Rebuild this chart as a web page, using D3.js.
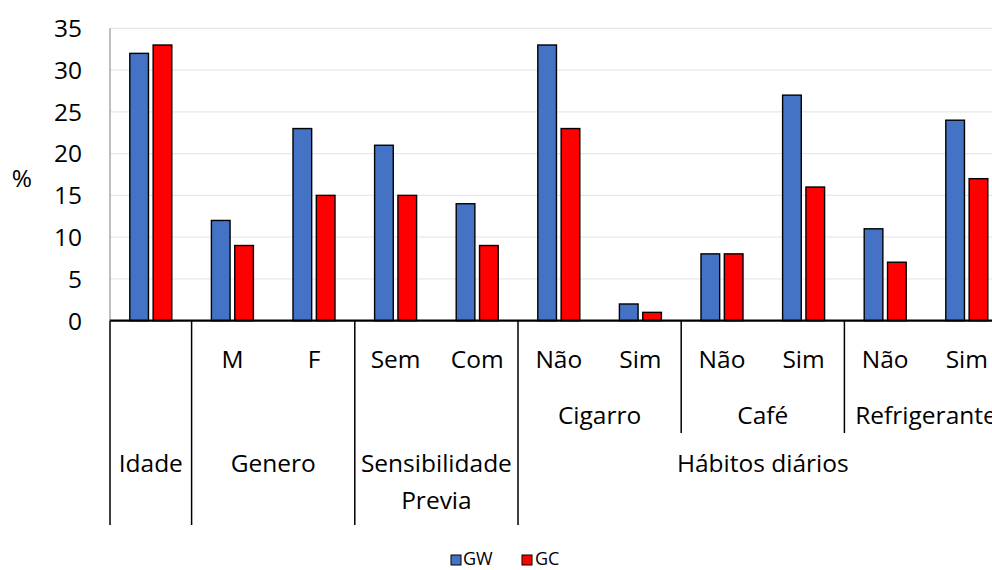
<!DOCTYPE html>
<html>
<head>
<meta charset="utf-8">
<script src="https://cdn.jsdelivr.net/npm/d3@7"></script>
<style>
  html, body { margin: 0; padding: 0; background: #fff; }
  svg text { font-family: "Open Sans", Lato, sans-serif; fill: #000; }
</style>
</head>
<body>
<svg id="chart" width="992" height="570"></svg>
<script>
// Categories: subcategory / group / top-level grouping
const categories = ["Idade", "M", "F", "Sem", "Com", "Não", "Sim", "Não", "Sim", "Não", "Sim"];
const seriesNames = ["GW", "GC"];
const gwValues = [32, 12, 23, 21, 14, 33, 2, 8, 27, 11, 24];
const gcValues = [33, 9, 15, 15, 9, 23, 1, 8, 16, 7, 17];
const yTicks = [0, 5, 10, 15, 20, 25, 30, 35];
const seriesColors = ["#4472C4", "#FF0000"];

// Level labels: [label, first index, last index]
const level2 = [["Cigarro", 5, 6], ["Café", 7, 8], ["Refrigerante", 9, 10]];
const level3 = [["Idade", 0, 0], ["Genero", 1, 2], ["Sensibilidade|Previa", 3, 4], ["Hábitos diários", 5, 10]];

const svg = d3.select("#chart");
const fs = 24.5;

const plotLeft = 110, plotRight = 1007.6, plotTop = 28.3, plotBottom = 320.7;
const idx = d3.range(categories.length);

const x = d3.scaleBand().domain(idx).range([plotLeft, plotRight]).padding(0);
const xi = d3.scaleBand().domain(seriesNames).range([-21, 21]).paddingInner(0.2);
const y = d3.scaleLinear().domain([0, 35]).range([plotBottom, plotTop]);

// Gridlines
svg.append("g").selectAll("line").data(yTicks.filter(d => d > 0)).join("line")
  .attr("x1", plotLeft).attr("x2", 992)
  .attr("y1", d => y(d)).attr("y2", d => y(d))
  .attr("stroke", "#e8e8e8").attr("stroke-width", 1.3);

// Y axis tick labels
svg.append("g").selectAll("text").data(yTicks).join("text")
  .attr("x", 82).attr("y", d => y(d))
  .attr("dy", "0.36em").attr("text-anchor", "end")
  .attr("font-size", fs).text(d => d);

svg.append("text").attr("x", 22).attr("y", 178).attr("dy", "0.36em")
  .attr("text-anchor", "middle").attr("font-size", fs).text("%");

// Bars
const data = [];
idx.forEach(i => {
  data.push({ i, s: "GW", v: gwValues[i], c: seriesColors[0] });
  data.push({ i, s: "GC", v: gcValues[i], c: seriesColors[1] });
});
svg.append("g").selectAll("rect").data(data).join("rect")
  .attr("x", d => x(d.i) + x.bandwidth() / 2 + xi(d.s))
  .attr("width", xi.bandwidth())
  .attr("y", d => y(d.v))
  .attr("height", d => y(0) - y(d.v))
  .attr("fill", d => d.c)
  .attr("stroke", "#000").attr("stroke-width", 1.4);

// Value axis line
svg.append("line").attr("x1", plotLeft).attr("x2", plotLeft).attr("y1", plotTop).attr("y2", plotBottom)
  .attr("stroke", "#7f7f7f").attr("stroke-width", 1);

// Category axis
svg.append("line").attr("x1", plotLeft).attr("x2", 992).attr("y1", y(0)).attr("y2", y(0))
  .attr("stroke", "#000").attr("stroke-width", 2.2);

const rowY1 = 359, rowY2 = 415, rowY3 = 472, lvl2Bottom = 433, lvl3Bottom = 525;

// Divider lines
const bounds = [0, 1, 3, 5].map(i => x(i));
svg.append("g").selectAll("line").data(bounds).join("line")
  .attr("x1", d => d).attr("x2", d => d).attr("y1", y(0)).attr("y2", lvl3Bottom)
  .attr("stroke", "#000").attr("stroke-width", 1.5);
svg.append("g").selectAll("line").data([7, 9].map(i => x(i))).join("line")
  .attr("x1", d => d).attr("x2", d => d).attr("y1", y(0)).attr("y2", lvl2Bottom)
  .attr("stroke", "#000").attr("stroke-width", 1.5);

// Level 1 labels (subcategories)
svg.append("g").selectAll("text").data(idx.filter(i => i > 0)).join("text")
  .attr("x", i => x(i) + x.bandwidth() / 2).attr("y", rowY1).attr("dy", "0.36em")
  .attr("text-anchor", "middle").attr("font-size", fs).text(i => categories[i]);

// Level 2 labels
svg.append("g").selectAll("text").data(level2).join("text")
  .attr("x", d => (x(d[1]) + x(d[2]) + x.bandwidth()) / 2).attr("y", rowY2).attr("dy", "0.36em")
  .attr("text-anchor", "middle").attr("font-size", fs).text(d => d[0]);

// Level 3 labels
const l3 = svg.append("g").selectAll("text").data(level3).join("text")
  .attr("x", d => (x(d[1]) + x(d[2]) + x.bandwidth()) / 2).attr("y", rowY3).attr("dy", "0.36em")
  .attr("text-anchor", "middle").attr("font-size", fs);
l3.each(function(d) {
  const parts = d[0].split("|");
  const t = d3.select(this);
  const cx = +t.attr("x");
  parts.forEach((p, k) => {
    t.append("tspan").attr("x", cx).attr("dy", k === 0 ? 0 : "1.5em").text(p);
  });
});

// Legend
const legend = svg.append("g");
const legendItems = [[451, 463, 0], [522, 535, 1]];
legendItems.forEach(([sx, tx, k]) => {
  legend.append("rect").attr("x", sx).attr("y", 555).attr("width", 10).attr("height", 10)
    .attr("fill", seriesColors[k]).attr("stroke", "#000").attr("stroke-width", 1);
  legend.append("text").attr("x", tx).attr("y", 558.5).attr("dy", "0.36em")
    .attr("font-size", 18).text(seriesNames[k]);
});
</script>
</body>
</html>
